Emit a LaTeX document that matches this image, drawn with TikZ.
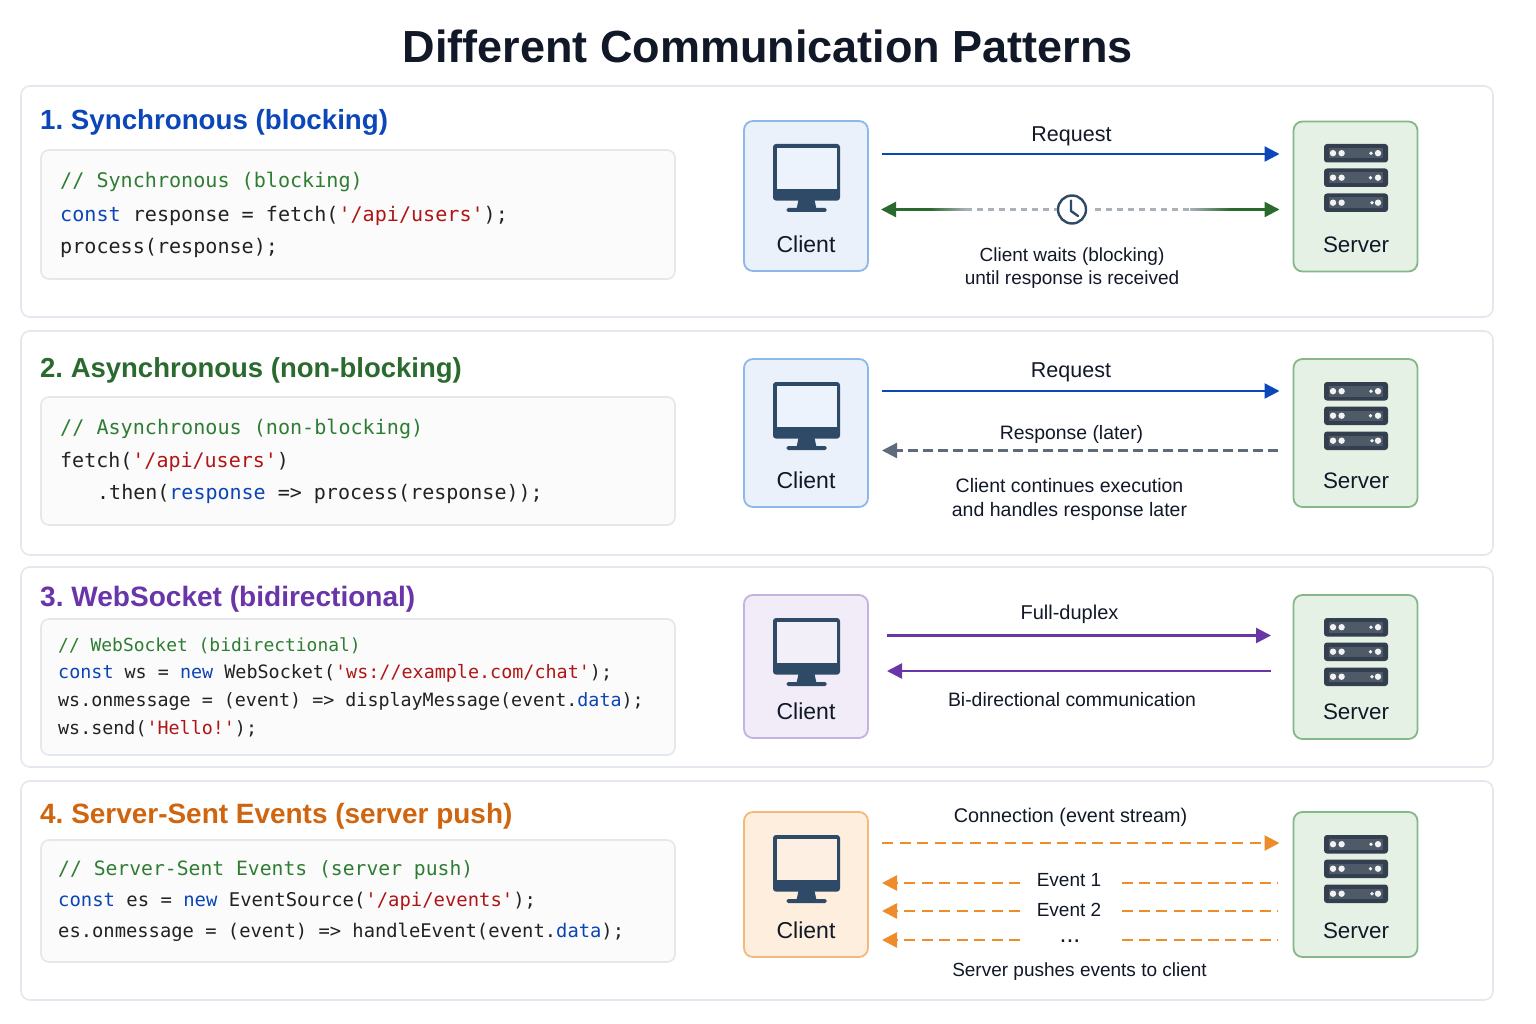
\documentclass[tikz,border=0pt]{standalone}
\usepackage{fontspec}
\setmainfont{Liberation Sans}
\setmonofont{DejaVu Sans Mono}
\usetikzlibrary{arrows.meta,calc}
\frenchspacing
\definecolor{ink}{HTML}{111827}
\definecolor{panelb}{HTML}{E4E8EE}
\definecolor{codeb}{HTML}{E4E7EB}
\definecolor{codef}{HTML}{FBFBFC}
\definecolor{ablue}{HTML}{0B47B8}
\definecolor{agreen}{HTML}{2A6A2E}
\definecolor{apurple}{HTML}{6A35A8}
\definecolor{aorange}{HTML}{D0650F}
\definecolor{lorange}{HTML}{EE8B2B}
\definecolor{agrey}{HTML}{5E6B7A}
\definecolor{dgrey}{HTML}{ABB1B8}
\definecolor{icon}{HTML}{2F4A66}
\definecolor{rack}{HTML}{333F4E}
\definecolor{rackin}{HTML}{4F5A68}
\definecolor{cmt}{HTML}{2E7D32}
\definecolor{kw}{HTML}{0B45B5}
\definecolor{str}{HTML}{B01515}
\definecolor{code}{HTML}{222222}
\definecolor{bf}{HTML}{EAF1FB}\definecolor{bd}{HTML}{8DB8E8}
\definecolor{gf}{HTML}{E6F1E6}\definecolor{gd}{HTML}{85B888}
\definecolor{pf}{HTML}{F1ECF8}\definecolor{pd}{HTML}{C3B3E0}
\definecolor{of}{HTML}{FDEEDD}\definecolor{od}{HTML}{F6B77A}
\newcommand{\fs}[1]{\fontsize{#1}{#1}\selectfont}
\newcommand{\K}[1]{\textcolor{kw}{#1}}
\newcommand{\Sx}[1]{\textcolor{str}{#1}}
\tikzset{
  panel/.style={draw=panelb,line width=1.6pt,fill=white,rounded corners=9pt},
  codebox/.style={draw=codeb,line width=1.6pt,fill=codef,rounded corners=8pt},
  head/.style={anchor=base west,inner sep=0pt,font=\fs{#1}\bfseries},
  codeline/.style={anchor=base west,inner sep=0pt,text=code,font=\ttfamily\fs{#1}},
  lbl/.style={inner sep=0pt,text=ink,font=\fs{#1},align=center},
  devlbl/.style={inner sep=0pt,text=ink,font=\fs{#1}},
  tip/.style={-{Triangle[length=15pt,width=15pt]}},
  arr/.style={tip,line width=2.4pt,draw=#1},
  darr/.style={tip,line width=2.4pt,draw=#1,dash pattern=on 11pt off 6.5pt},
  dseg/.style={line width=2.4pt,draw=#1,dash pattern=on 11pt off 6.2pt},
  devbox/.style n args={2}{draw=#2,fill=#1,line width=1.8pt,rounded corners=9pt,inner sep=0pt,minimum width=124pt},
}
\newcommand{\monitor}[3]{% x, top, screen colour
  \begin{scope}[shift={(#1,#2)}]
    \fill[icon,rounded corners=3pt] (-33.5,23) rectangle (33.5,79.6);
    \fill[#3!85!white] (-29.5,26.8) rectangle (30.5,68.3);
    \fill[icon] (-8,79) -- (8,79) -- (10,88) -- (-10,88) -- cycle;
    \fill[icon,rounded corners=1.5pt] (-20,87) rectangle (20,91);
  \end{scope}}
\newcommand{\rackunit}[2]{%
  \fill[rack,rounded corners=3pt] (-32,#1) rectangle (32,#1+18.5);
  \fill[rackin] (-27,#1+4) rectangle (27,#1+14.5);
  \fill[white!90!gray] (-23,#1+9.2) circle (3.2) (-14.4,#1+9.2) circle (3.2) (22,#1+9.2) circle (3.2) (#2,#1+9.2) circle (1.9);}
\newcommand{\serverart}[2]{%
  \begin{scope}[shift={(#1,#2)}]
    \rackunit{23}{15}\rackunit{47.5}{14.5}\rackunit{72.5}{16}
  \end{scope}}
\begin{document}
\begin{tikzpicture}[x=1pt,y=-1pt]
\useasboundingbox (0,0) rectangle (1536,1024);
\fill[white] (0,0) rectangle (1536,1024);
\node[inner sep=0pt,text=ink,font=\fs{45}\bfseries] (title) at (768,46) {Different Communication Patterns};

% panels
\draw[panel] (21,86) rectangle (1493,317);
\draw[panel] (21,331) rectangle (1493,555);
\draw[panel] (21,567) rectangle (1493,767);
\draw[panel] (21,781) rectangle (1493,1000);
\draw[codebox] (41,150) rectangle (675,279);
\draw[codebox] (41,397) rectangle (675,525);
\draw[codebox] (41,619) rectangle (675,755);
\draw[codebox] (41,840) rectangle (675,962);

% headings
\node[head=27.7,text=ablue] (h1) at (40,129.5) {1. Synchronous (blocking)};
\node[head=27.5,text=agreen] (h2) at (40,377) {2. Asynchronous (non-blocking)};
\node[head=28.05,text=apurple] (h3) at (40,606) {3. WebSocket (bidirectional)};
\node[head=27.95,text=aorange] (h4) at (40,823) {4. Server-Sent Events (server push)};

% code 1
\node[codeline=20.1,text=cmt] (c11) at (60,187.5) {// Synchronous (blocking)};
\node[codeline=20.1] (c12) at (60,222) {\K{const} response = fetch(\Sx{'/api/users'});};
\node[codeline=20.1] (c13) at (60,254) {process(response);};
% code 2
\node[codeline=20.1,text=cmt] (c21) at (60,434.5) {// Asynchronous (non-blocking)};
\node[codeline=20] (c22) at (60,467.5) {fetch(\Sx{'/api/users'})};
\node[codeline=20] (c23) at (97,499.5) {.then(\K{response} => process(response));};
% code 3
\node[codeline=17.95,text=cmt] (c31) at (58,651) {// WebSocket (bidirectional)};
\node[codeline=18.4] (c32) at (58,678.5) {\K{const} ws = \K{new} WebSocket(\Sx{'ws://example.com/chat'});};
\node[codeline=18.35] (c33) at (58,706.5) {ws.onmessage = (event) => displayMessage(event.\K{data});};
\node[codeline=18.35] (c34) at (58,734) {ws.send(\Sx{'Hello!'});};
% code 4
\node[codeline=19.7,text=cmt] (c41) at (58,875) {// Server-Sent Events (server push)};
\node[codeline=18.9] (c42) at (58,906) {\K{const} es = \K{new} EventSource(\Sx{'/api/events'});};
\node[codeline=18.8] (c43) at (58,937) {es.onmessage = (event) => handleEvent(event.\K{data});};

% devices
\node[devbox={bf}{bd},minimum height=150pt] (cl1) at (806,196) {};
\node[devbox={gf}{gd},minimum height=150pt] (sv1) at (1355.5,196.5) {};
\node[devbox={bf}{bd},minimum height=148pt] (cl2) at (806,433) {};
\node[devbox={gf}{gd},minimum height=148pt] (sv2) at (1355.5,433) {};
\node[devbox={pf}{pd},minimum height=143pt] (cl3) at (806,666.5) {};
\node[devbox={gf}{gd},minimum height=144pt] (sv3) at (1355.5,667) {};
\node[devbox={of}{od},minimum height=145pt] (cl4) at (806,884.5) {};
\node[devbox={gf}{gd},minimum height=145pt] (sv4) at (1355.5,884.5) {};
\monitor{806.5}{121}{bf}\monitor{806.5}{359}{bf}\monitor{806.5}{595}{pf}\monitor{806.5}{812}{of}
\serverart{1356}{121}\serverart{1356}{359}\serverart{1356}{595}\serverart{1356}{812}
\node[devlbl=23] (cl1t) at (806,244) {Client};
\node[devlbl=22.4] (sv1t) at (1356,245) {Server};
\node[devlbl=23] (cl2t) at (806,480) {Client};
\node[devlbl=22.4] (sv2t) at (1356,480.5) {Server};
\node[devlbl=23] (cl3t) at (806,711.5) {Client};
\node[devlbl=22.4] (sv3t) at (1356,712) {Server};
\node[devlbl=23] (cl4t) at (806,930) {Client};
\node[devlbl=22.4] (sv4t) at (1356,930.5) {Server};

% row 1
\coordinate (a1l) at (882,154);\coordinate (a1r) at (1279.5,154);
\draw[arr=ablue] (a1l) -- (a1r);
\node[lbl=21.5] (r1) at (1071.5,136) {Request};
\node[circle,draw=icon,line width=2.4pt,minimum size=28pt,inner sep=0pt] (clock) at (1072,209.5) {};
\draw[icon,line width=2.4pt,line cap=round,line join=round] (1071,200.5) -- (1071,211) -- (1078,216);
\coordinate (g1l) at (881,209.5);\coordinate (g1a) at (930,209.5);\coordinate (g1b) at (966,209.5);
\coordinate (g1r) at (1279.5,209.5);\coordinate (g1c) at (1190,209.5);\coordinate (g1d) at (1230,209.5);
\draw[tip,line width=2.4pt,draw=agreen] (g1a) -- (g1l);
\shade[left color=agreen,right color=dgrey] ($(g1a)+(0,-1.2)$) rectangle ($(g1b)+(0,1.2)$);
\draw[line width=2.4pt,draw=dgrey,dash pattern=on 6pt off 5pt] (g1b) -- (clock.west);
\draw[line width=2.4pt,draw=dgrey,dash pattern=on 6pt off 5pt] ($(clock.east)+(8,0)$) -- (g1c);
\shade[left color=dgrey,right color=agreen] ($(g1c)+(0,-1.2)$) rectangle ($(g1d)+(0,1.2)$);
\draw[tip,line width=2.4pt,draw=agreen] (g1d) -- (g1r);
\node[lbl=19] (n1) at (1072,268) {Client waits (blocking)\\[4pt]until response is received};

% row 2
\coordinate (a2l) at (882,391);\coordinate (a2r) at (1279.5,391);
\draw[arr=ablue] (a2l) -- (a2r);
\node[lbl=21.5] (r2) at (1071,372) {Request};
\node[lbl=19.4] (r2b) at (1071.5,434.5) {Response (later)};
\coordinate (b2r) at (1278,450.5);\coordinate (b2l) at (882,450.5);
\draw[tip,line width=2.4pt,draw=agrey,dash pattern=on 10pt off 5pt] (b2r) -- (b2l);
\node[lbl=19.5] (n2) at (1069.5,499.5) {Client continues execution\\[4pt]and handles response later};

% row 3
\coordinate (p1l) at (887,635.5);\coordinate (p1r) at (1271,635.5);
\coordinate (p2l) at (887,671);\coordinate (p2r) at (1271,671);
\draw[arr=apurple] (p1l) -- (p1r);
\draw[arr=apurple] (p2r) -- (p2l);
\node[lbl=20] (r3) at (1069.5,614.5) {Full-duplex};
\node[lbl=19.4] (n3) at (1072,700) {Bi-directional communication};

% row 4
\coordinate (o0l) at (882,843);\coordinate (o0r) at (1279.5,843);
\draw[darr=lorange] (o0l) -- (o0r);
\node[lbl=19.8] (r4) at (1070.5,817.5) {Connection (event stream)};
\node[lbl=19,minimum width=102pt] (ev1) at (1069,880.5) {Event 1};
\node[lbl=19,minimum width=102pt] (ev2) at (1069,909.5) {Event 2};
\node[lbl=25,minimum width=102pt] (ev3) at (1070,941) {...};
\coordinate (e1l) at (882,883);\coordinate (e1r) at (1278,883);
\coordinate (e2l) at (882,911);\coordinate (e2r) at (1278,911);
\coordinate (e3l) at (882,940);\coordinate (e3r) at (1278,940);
\coordinate (g1) at (1122,883);\coordinate (g2) at (1122,911);\coordinate (g3) at (1122,940);
\coordinate (f1) at (1020,883);\coordinate (f2) at (1020,911);\coordinate (f3) at (1020,940);
\draw[dseg=lorange] (g1) -- (e1r);
\draw[darr=lorange] (f1) -- (e1l);
\draw[dseg=lorange] (g2) -- (e2r);
\draw[darr=lorange] (f2) -- (e2l);
\draw[dseg=lorange] (g3) -- (e3r);
\draw[darr=lorange] (f3) -- (e3l);
\node[lbl=19] (n4) at (1079.5,972) {Server pushes events to client};
\end{tikzpicture}
\end{document}
